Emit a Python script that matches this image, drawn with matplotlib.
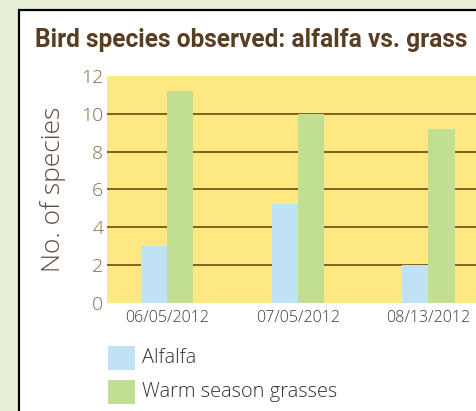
import matplotlib.pyplot as plt
import numpy as np
from matplotlib.patches import Rectangle

dates = ["06/05/2012", "07/05/2012", "08/13/2012"]
alfalfa = [3, 5.2, 2]
grasses = [11.2, 10, 9.2]
series_names = ["Alfalfa", "Warm season grasses"]
yticks = [0, 2, 4, 6, 8, 10, 12]

W, H = 477, 411
fig = plt.figure(figsize=(W / 100, H / 100), dpi=100)
fig.patch.set_facecolor("#e8f1d6")
body = dict(family="Open Sans", fontweight="light")

# white panel with black border (runs off right and bottom)
panel = Rectangle((19 / W, -0.1), 1.2, 1 - 9.5 / H + 0.1, transform=fig.transFigure,
                  facecolor="white", edgecolor="black", linewidth=1.6, zorder=-5)
fig.patches.append(panel)

title = fig.text(35 / W, 1 - 40 / H, "Bird species observed: alfalfa vs. grass",
                 fontsize=20, fontweight="bold", color="#5a3e22", va="center",
                 ha="left", family="Roboto")
# shrink title to fit the panel width
r = fig.canvas.get_renderer()
tw = title.get_window_extent(r).width
title.set_fontsize(20 * 432 / tw)

ax = fig.add_axes([107.5 / W, 1 - 302.6 / H, 1 - 107.5 / W, (302.6 - 76) / H])
ax.set_facecolor("#fde882")
x = np.arange(len(dates))
w = 0.2
ax.bar(x - w / 2, alfalfa, w, color="#bfe3f4", zorder=3)
ax.bar(x + w / 2, grasses, w, color="#c2de93", zorder=3)

ax.set_ylim(0, 12)
ax.set_xlim(-0.455, 2.372)
for v in yticks[1:-1]:
    ax.axhline(v, color="#7a5514", linewidth=1.3, zorder=2)
for s in ax.spines.values():
    s.set_visible(False)
ax.set_yticks(yticks)
ax.set_yticklabels([str(v) for v in yticks], fontsize=14, color="#8a6a40", **body)
ax.set_xticks(x)
ax.set_xticklabels(dates, fontsize=11.5, color="#3a3a3a", **body)
ax.tick_params(length=0)
ax.tick_params(axis="x", pad=5)
ax.tick_params(axis="y", pad=3)
ax.set_ylabel("No. of species", fontsize=19, color="#5a4a3a", labelpad=11, **body)

# legend
fig.patches.append(Rectangle((108 / W, 1 - 370 / H), 27 / W, 24 / H,
                             transform=fig.transFigure, facecolor="#bfe3f4"))
fig.patches.append(Rectangle((108 / W, 1 - 404 / H), 27 / W, 24 / H,
                             transform=fig.transFigure, facecolor="#c2de93"))
fig.text(142 / W, 1 - 358 / H, series_names[0], fontsize=14.4, color="#333333",
         va="center", **body)
fig.text(142 / W, 1 - 392 / H, series_names[1], fontsize=14.4, color="#333333",
         va="center", **body)

fig.savefig("out.png", dpi=100, facecolor=fig.get_facecolor())
